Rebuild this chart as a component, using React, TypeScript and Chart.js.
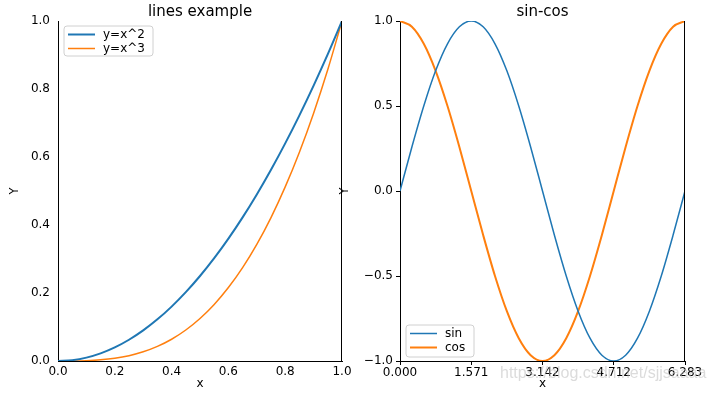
import { useEffect, useRef } from 'react';
import { Chart, registerables } from 'chart.js';

Chart.register(...registerables);

// ---- data ----
const powX = [0, 0.05, 0.1, 0.15, 0.2, 0.25, 0.3, 0.35, 0.4, 0.45, 0.5, 0.55, 0.6, 0.65, 0.7, 0.75, 0.8, 0.85, 0.9, 0.95, 1];
const squareY = [0, 0.0025, 0.01, 0.0225, 0.04, 0.0625, 0.09, 0.1225, 0.16, 0.2025, 0.25, 0.3025, 0.36, 0.4225, 0.49, 0.5625, 0.64, 0.7225, 0.81, 0.9025, 1];
const cubeY = [0, 0.000125, 0.001, 0.003375, 0.008, 0.015625, 0.027, 0.042875, 0.064, 0.091125, 0.125, 0.166375, 0.216, 0.274625, 0.343, 0.421875, 0.512, 0.614125, 0.729, 0.857375, 1];

const trigX = [0, 0.262, 0.524, 0.785, 1.047, 1.309, 1.571, 1.833, 2.094, 2.356, 2.618, 2.88, 3.142, 3.403, 3.665, 3.927, 4.189, 4.451, 4.712, 4.974, 5.236, 5.498, 5.76, 6.021, 6.2832];
const sinY = [0, 0.259, 0.5, 0.707, 0.866, 0.966, 1, 0.966, 0.866, 0.707, 0.5, 0.259, 0, -0.259, -0.5, -0.707, -0.866, -0.966, -1, -0.966, -0.866, -0.707, -0.5, -0.259, 0];
const cosY = [1, 0.966, 0.866, 0.707, 0.5, 0.259, 0, -0.259, -0.5, -0.707, -0.866, -0.966, -1, -0.966, -0.866, -0.707, -0.5, -0.259, 0, 0.259, 0.5, 0.707, 0.866, 0.966, 1];

const trigXTickValues = [0, 1.5708, 3.1416, 4.7124, 6.2832];
const trigXTickLabels = ['0.000', '1.571', '3.142', '4.712', '6.283'];

const leftTitle = 'lines example';
const rightTitle = 'sin-cos';
const leftLabels = ['y=x^2', 'y=x^3'];
const rightLabels = ['sin', 'cos'];

const BLUE = '#1f77b4';
const ORANGE = '#ff7f0e';
const FONT = 'DejaVu Sans';

Chart.defaults.font.family = FONT;
Chart.defaults.color = '#000';

const spinePlugin = {
  id: 'rightSpine',
  afterDraw(chart: any) {
    const { ctx, chartArea } = chart;
    ctx.save();
    ctx.strokeStyle = '#000';
    ctx.lineWidth = 1;
    const x = Math.round(chartArea.right) - 0.5;
    ctx.beginPath();
    ctx.moveTo(x, chartArea.top);
    ctx.lineTo(x, chartArea.bottom);
    ctx.stroke();
    ctx.restore();
  },
};

const innerLegendPlugin = {
  id: 'innerLegend',
  afterDraw(chart: any, _args: any, opts: any) {
    if (!opts || !opts.display) return;
    const { ctx, chartArea } = chart;
    const w = opts.width;
    const h = opts.height;
    const bx = chartArea.left + opts.offsetX;
    const by = opts.corner === 'bottom' ? chartArea.bottom - opts.offsetY - h : chartArea.top + opts.offsetY;
    ctx.save();
    ctx.beginPath();
    const r = 3;
    ctx.moveTo(bx + r, by);
    ctx.arcTo(bx + w, by, bx + w, by + h, r);
    ctx.arcTo(bx + w, by + h, bx, by + h, r);
    ctx.arcTo(bx, by + h, bx, by, r);
    ctx.arcTo(bx, by, bx + w, by, r);
    ctx.closePath();
    ctx.fillStyle = 'rgba(255,255,255,0.85)';
    ctx.fill();
    ctx.strokeStyle = '#d0d0d0';
    ctx.lineWidth = 1;
    ctx.stroke();
    chart.data.datasets.forEach((ds: any, i: number) => {
      const cy = by + 8.5 + i * 14;
      ctx.strokeStyle = ds.borderColor;
      ctx.lineWidth = ds.borderWidth;
      ctx.beginPath();
      ctx.moveTo(bx + 4, cy);
      ctx.lineTo(bx + 31, cy);
      ctx.stroke();
      ctx.fillStyle = '#000';
      ctx.font = `12px "${FONT}"`;
      ctx.textBaseline = 'middle';
      ctx.textAlign = 'left';
      ctx.fillText(ds.label, bx + 39, cy);
    });
    ctx.restore();
  },
};

function baseOptions(p: {
  title: string;
  yWidth: number;
  rightPad: number;
  yTitlePad: number;
  ticks: boolean;
  xMin: number;
  xMax: number;
  xStep: number;
  yMin: number;
  yMax: number;
  yStep: number;
  legend: any;
  customXTicks?: boolean;
}) {
  const tickFont = { family: FONT, size: 12 };
  const gridCfg = {
    display: true,
    drawOnChartArea: false,
    drawTicks: p.ticks,
    tickLength: 4,
    tickWidth: 1,
    color: '#000',
  };
  const xScale: any = {
    type: 'linear',
    min: p.xMin,
    max: p.xMax,
    grid: gridCfg,
    border: { display: true, color: '#000', width: 1 },
    ticks: {
      stepSize: p.xStep,
      autoSkip: false,
      maxRotation: 0,
      padding: p.ticks ? 1 : 4,
      font: tickFont,
      color: '#000',
      callback: (v: number) => Number(v).toFixed(1),
    },
    title: { display: true, text: 'x', font: { family: FONT, size: 12 }, color: '#000', padding: { top: 0, bottom: 3 } },
    afterFit: (s: any) => {
      s.height = 33;
    },
  };
  if (p.customXTicks) {
    xScale.afterBuildTicks = (s: any) => {
      s.ticks = trigXTickValues.map((value) => ({ value }));
    };
    xScale.ticks.callback = (_v: number, i: number) => trigXTickLabels[i];
  }
  return {
    responsive: false,
    animation: false as const,
    layout: { padding: { left: 0, right: p.rightPad, top: 0, bottom: 0 } },
    scales: {
      x: xScale,
      y: {
        type: 'linear',
        min: p.yMin,
        max: p.yMax,
        grid: gridCfg,
        border: { display: true, color: '#000', width: 1 },
        ticks: {
          stepSize: p.yStep,
          padding: p.ticks ? 3 : 8,
          font: tickFont,
          color: '#000',
          callback: (v: number) => Number(v).toFixed(1).replace('-', '\u2212'),
        },
        title: { display: true, text: 'Y', font: { family: FONT, size: 11.5 }, color: '#000', padding: { top: p.yTitlePad, bottom: 0 } },
        afterFit: (s: any) => {
          s.width = p.yWidth;
        },
      },
    },
    plugins: {
      legend: { display: false },
      tooltip: { enabled: false },
      title: {
        display: true,
        fullSize: false,
        text: p.title,
        font: { family: FONT, size: 15, weight: 'normal' as const },
        color: '#000',
        padding: { top: 3, bottom: 0 },
      },
      innerLegend: p.legend,
    },
  };
}

export default function App() {
  const leftRef = useRef<HTMLCanvasElement>(null);
  const rightRef = useRef<HTMLCanvasElement>(null);

  useEffect(() => {
    document.body.style.margin = '0';
    const left = new Chart(leftRef.current as HTMLCanvasElement, {
      type: 'line',
      data: {
        datasets: [
          {
            label: leftLabels[0],
            data: powX.map((x, i) => ({ x, y: squareY[i] })),
            borderColor: BLUE,
            borderWidth: 2,
            pointRadius: 0,
            cubicInterpolationMode: 'monotone',
          },
          {
            label: leftLabels[1],
            data: powX.map((x, i) => ({ x, y: cubeY[i] })),
            borderColor: ORANGE,
            borderWidth: 1.5,
            pointRadius: 0,
            cubicInterpolationMode: 'monotone',
          },
        ],
      },
      options: baseOptions({
        title: leftTitle,
        yWidth: 58,
        rightPad: 15,
        yTitlePad: 8.4,
        ticks: false,
        xMin: 0,
        xMax: 1,
        xStep: 0.2,
        yMin: 0,
        yMax: 1,
        yStep: 0.2,
        legend: { display: true, offsetX: 6, offsetY: 5, width: 89, height: 30, corner: 'top' },
      }) as any,
      plugins: [spinePlugin, innerLegendPlugin],
    });
    const right = new Chart(rightRef.current as HTMLCanvasElement, {
      type: 'line',
      data: {
        datasets: [
          {
            label: rightLabels[0],
            data: trigX.map((x, i) => ({ x, y: sinY[i] })),
            borderColor: BLUE,
            borderWidth: 1.5,
            pointRadius: 0,
            cubicInterpolationMode: 'monotone',
          },
          {
            label: rightLabels[1],
            data: trigX.map((x, i) => ({ x, y: cosY[i] })),
            borderColor: ORANGE,
            borderWidth: 2,
            pointRadius: 0,
            cubicInterpolationMode: 'monotone',
          },
        ],
      },
      options: baseOptions({
        title: rightTitle,
        yWidth: 65,
        rightPad: 29,
        yTitlePad: 3.4,
        ticks: true,
        xMin: 0,
        xMax: 6.2832,
        xStep: 1.5708,
        yMin: -1,
        yMax: 1,
        yStep: 0.5,
        legend: { display: true, offsetX: 6, offsetY: 4, width: 68, height: 32, corner: 'bottom' },
        customXTicks: true,
      }) as any,
      plugins: [spinePlugin, innerLegendPlugin],
    });
    return () => {
      left.destroy();
      right.destroy();
    };
  }, []);

  return (
    <div style={{ position: 'absolute', left: 0, top: 0, width: 714, height: 394, background: '#fff', overflow: 'hidden' }}>
      <canvas ref={leftRef} width={357} height={394} style={{ position: 'absolute', left: 0, top: 0 }} />
      <canvas ref={rightRef} width={379} height={394} style={{ position: 'absolute', left: 335, top: 0 }} />
      <div
        style={{
          position: 'absolute',
          left: 500,
          top: 364,
          fontFamily: '"Liberation Sans", Arial, sans-serif',
          fontSize: 16,
          color: 'rgba(190,190,190,0.55)',
          whiteSpace: 'nowrap',
          pointerEvents: 'none',
        }}
      >
        https://blog.csdn.net/sjjsaaaa
      </div>
    </div>
  );
}
